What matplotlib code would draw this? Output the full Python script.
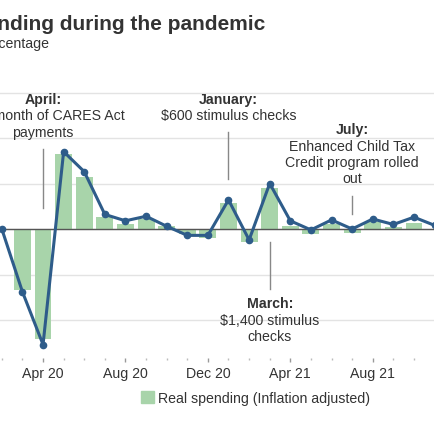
import matplotlib.pyplot as plt
import numpy as np
from matplotlib.patches import Patch

plt.rcParams['font.family'] = ['Liberation Sans', 'DejaVu Sans']

# month index: 0 = Jan 2020
months = np.arange(1, 23)  # Feb 2020 .. Nov 2021
real_spending = [0.0, -6.7, -12.1, 8.2, 5.7, 1.3, 0.55, 1.1, 0.3, -0.5, -1.0,
                 2.9, -1.4, 4.5, 0.35, -0.6, 0.55, -0.4, 0.75, 0.2, 0.65, 0.0]
nominal_spending = [0.0, -6.9, -12.7, 8.5, 6.3, 1.6, 0.9, 1.4, 0.3, -0.7, -0.7,
                    3.2, -1.2, 5.0, 0.9, -0.1, 1.0, 0.0, 1.1, 0.5, 1.3, 0.4]

tick_months = [-1, 3, 7, 11, 15, 19, 23]
tick_labels = ['Dec 19', 'Apr 20', 'Aug 20', 'Dec 20', 'Apr 21', 'Aug 21', 'Dec 21']

BAR_COLOR = '#a8d4aa'
LINE_COLOR = '#2e5c8a'
TEXT_COLOR = '#333333'
FS = 10.2

W, H = 435, 435
fig = plt.figure(figsize=(W / 100, H / 100), dpi=100)

# pixel layout (original chart is cropped on both sides)
ax_left, ax_right = -60, 480
ax_top, ax_bot = 88, 359
zero_px, px_per_pct = 230, 9.1
px_per_month, apr20_px = 20.75, 40

ax = fig.add_axes([ax_left / W, 1 - ax_bot / H,
                   (ax_right - ax_left) / W, (ax_bot - ax_top) / H])
ax.set_xlim(3 + (ax_left - apr20_px) / px_per_month,
            3 + (ax_right - apr20_px) / px_per_month)
ax.set_ylim((zero_px - ax_bot) / px_per_pct, (zero_px - ax_top) / px_per_pct)

ax.set_yticks([-10, -5, 0, 5, 10, 15])
ax.yaxis.grid(True, color='#e3e3e3', linewidth=1)
ax.set_axisbelow(True)
ax.tick_params(axis='y', left=False, labelleft=False)
for s in ax.spines.values():
    s.set_visible(False)

ax.set_xticks(tick_months)
ax.set_xticklabels(tick_labels, fontsize=FS, color=TEXT_COLOR)
ax.set_xticks(np.arange(-2, 25), minor=True)
ax.tick_params(axis='x', which='major', length=3, width=1, color='#999999', pad=3)
ax.tick_params(axis='x', which='minor', length=1.5, width=1, color='#bbbbbb')

ax.bar(months, real_spending, width=0.82, color=BAR_COLOR, zorder=2)
ax.axhline(0, color='#555555', linewidth=1, zorder=3)
ax.plot(months, nominal_spending, color=LINE_COLOR, linewidth=2.2,
        marker='o', markersize=4.5, zorder=4)


def px2v(py):
    return (zero_px - py) / px_per_pct


def note(m, head_py, head, body_py, body, line_from, line_to):
    ax.text(m, px2v(head_py), head, ha='center', va='center', fontsize=FS,
            fontweight='bold', color=TEXT_COLOR, clip_on=False)
    ax.text(m, px2v(body_py), body, ha='center', va='center', fontsize=FS,
            color=TEXT_COLOR, linespacing=1.2, clip_on=False)
    ax.plot([m, m], [px2v(line_from), px2v(line_to)], color='#888888',
            linewidth=1, zorder=5)


note(3, 100, 'April:', 124.5, 'First month of CARES Act\npayments', 150, 209)
note(12, 100, 'January:', 116, r'\$600 stimulus checks', 133, 180)
note(18, 130, 'July:', 163, 'Enhanced Child Tax\nCredit program rolled\nout', 197, 215)
note(14, 304, 'March:', 329, r'\$1,400 stimulus' + '\nchecks', 243, 290)

# title and subtitle (left part cropped off in the reference)
fig.text(265 / W, 1 - 25 / H, 'Consumer spending during the pandemic',
         ha='right', va='center', fontsize=15, fontweight='bold', color=TEXT_COLOR)
fig.text(49 / W, 1 - 44 / H, 'Monthly change, percentage',
         ha='right', va='center', fontsize=FS, color=TEXT_COLOR)

fig.legend(handles=[Patch(color=BAR_COLOR, label='Real spending (Inflation adjusted)')],
           loc='center', bbox_to_anchor=(256 / W, 1 - 399 / H), frameon=False,
           fontsize=FS, handlelength=0.85, handleheight=0.85, handletextpad=0.35,
           labelcolor=TEXT_COLOR)

fig.savefig('out.png', dpi=100)
